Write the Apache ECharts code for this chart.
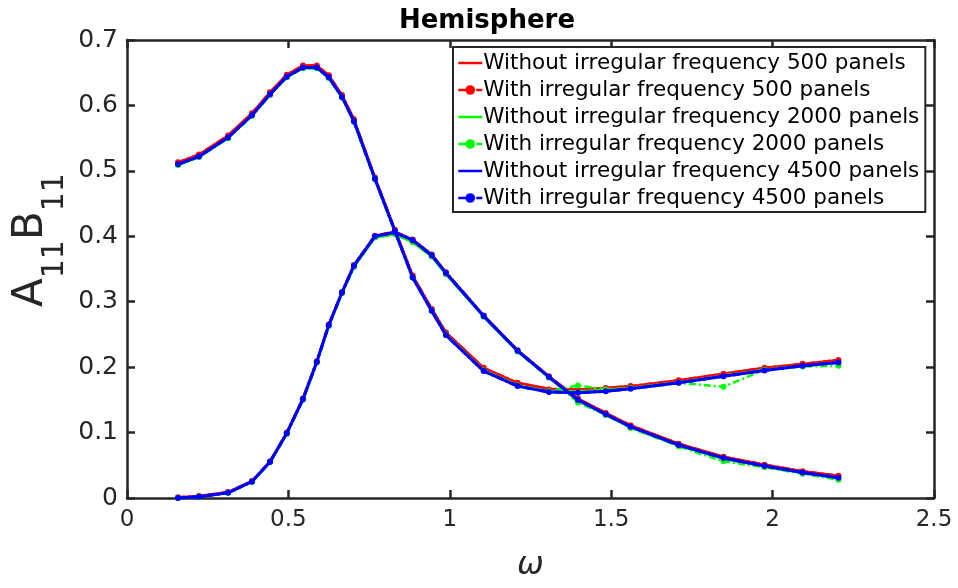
<!DOCTYPE html>
<html>
<head>
<meta charset="utf-8">
<script src="https://cdn.jsdelivr.net/npm/echarts@6/dist/echarts.min.js"></script>
<style>html,body{margin:0;padding:0;background:#fff}#c{width:958px;height:588px}</style>
</head>
<body>
<div id="c"></div>
<script>
const omega = [0.158,0.223,0.313,0.387,0.443,0.495,0.545,0.588,0.625,0.666,0.703,0.768,0.830,0.885,0.944,0.988,1.105,1.210,1.307,1.397,1.483,1.560,1.709,1.848,1.975,2.093,2.204];

const A_without500 = [0.513,0.525,0.554,0.588,0.620,0.647,0.661,0.661,0.646,0.616,0.579,0.490,0.410,0.340,0.289,0.253,0.199,0.176,0.167,0.166,0.168,0.171,0.180,0.190,0.199,0.205,0.211];
const A_with500    = [0.513,0.525,0.554,0.588,0.620,0.647,0.661,0.661,0.646,0.616,0.579,0.490,0.410,0.340,0.289,0.253,0.199,0.176,0.166,0.166,0.168,0.171,0.180,0.190,0.199,0.205,0.211];
const A_without2000 = [0.509,0.521,0.550,0.584,0.616,0.643,0.657,0.657,0.642,0.612,0.575,0.487,0.407,0.337,0.286,0.250,0.195,0.172,0.163,0.163,0.165,0.168,0.177,0.187,0.196,0.202,0.207];
const A_with2000    = [0.509,0.521,0.550,0.584,0.616,0.643,0.657,0.657,0.642,0.612,0.575,0.487,0.407,0.337,0.286,0.250,0.195,0.172,0.163,0.172,0.166,0.168,0.176,0.170,0.196,0.201,0.202];
const A_without4500 = [0.510,0.522,0.551,0.585,0.617,0.644,0.658,0.658,0.643,0.613,0.576,0.488,0.408,0.337,0.286,0.249,0.194,0.171,0.162,0.161,0.163,0.167,0.176,0.186,0.195,0.202,0.207];
const A_with4500    = [0.510,0.522,0.551,0.585,0.617,0.644,0.658,0.658,0.643,0.613,0.576,0.488,0.408,0.337,0.286,0.249,0.194,0.171,0.162,0.161,0.163,0.167,0.176,0.186,0.195,0.202,0.207];

const B_without500 = [0.001,0.003,0.009,0.026,0.056,0.100,0.152,0.209,0.265,0.315,0.356,0.401,0.407,0.395,0.372,0.345,0.279,0.226,0.186,0.152,0.130,0.111,0.083,0.063,0.051,0.041,0.034];
const B_with500    = [0.001,0.003,0.009,0.026,0.056,0.100,0.152,0.209,0.265,0.315,0.356,0.401,0.407,0.395,0.372,0.345,0.279,0.226,0.186,0.152,0.130,0.111,0.083,0.063,0.051,0.041,0.034];
const B_without2000 = [0.000,0.002,0.008,0.025,0.055,0.098,0.150,0.207,0.263,0.313,0.353,0.398,0.403,0.391,0.369,0.342,0.277,0.224,0.184,0.149,0.127,0.108,0.080,0.060,0.048,0.038,0.030];
const B_with2000    = [0.000,0.002,0.008,0.025,0.055,0.098,0.150,0.207,0.263,0.313,0.353,0.398,0.403,0.391,0.369,0.342,0.277,0.224,0.184,0.146,0.127,0.107,0.079,0.056,0.047,0.037,0.028];
const B_without4500 = [0.000,0.002,0.008,0.025,0.055,0.099,0.151,0.208,0.264,0.314,0.355,0.400,0.406,0.394,0.371,0.344,0.278,0.225,0.185,0.150,0.128,0.109,0.081,0.061,0.049,0.039,0.031];
const B_with4500    = [0.000,0.002,0.008,0.025,0.055,0.099,0.151,0.208,0.264,0.314,0.355,0.400,0.406,0.394,0.371,0.344,0.278,0.225,0.185,0.150,0.128,0.109,0.081,0.061,0.049,0.039,0.031];

const legendNames = [
  'Without irregular frequency 500 panels',
  'With irregular frequency 500 panels',
  'Without irregular frequency 2000 panels',
  'With irregular frequency 2000 panels',
  'Without irregular frequency 4500 panels',
  'With irregular frequency 4500 panels'
];
const xTicks = [0, 0.5, 1, 1.5, 2, 2.5];
const yTicks = [0, 0.1, 0.2, 0.3, 0.4, 0.5, 0.6, 0.7];

const colors = ['#ff0000','#ff0000','#00ff00','#00ff00','#0000ff','#0000ff'];
const Aset = [A_without500, A_with500, A_without2000, A_with2000, A_without4500, A_with4500];
const Bset = [B_without500, B_with500, B_without2000, B_with2000, B_without4500, B_with4500];

function pairs(ys){ return omega.map((x,i)=>[x, ys[i]]); }

const dashDot = [7,3,2,3];
const series = [];
for (let k = 0; k < 6; k++) {
  const withIF = (k % 2 === 1);
  [Aset[k], Bset[k]].forEach(ys => {
    series.push({
      name: legendNames[k],
      type: 'line',
      data: pairs(ys),
      symbol: withIF ? 'circle' : 'none',
      symbolSize: 6,
      showSymbol: withIF,
      lineStyle: { color: colors[k], width: k >= 4 ? 3 : 2.5, type: withIF ? dashDot : 'solid' },
      itemStyle: { color: colors[k] },
      animation: false,
      z: 2 + k
    });
  });
}

const legendData = legendNames.map((n, k) => {
  const withIF = (k % 2 === 1);
  return withIF
    ? { name: n, lineStyle: { type: [8,4,2,4], width: 2.5 } }
    : { name: n, itemStyle: { opacity: 0 }, lineStyle: { type: 'solid', width: 2.5 } };
});

const axisCol = '#262626';
const chart = echarts.init(document.getElementById('c'), null, { renderer: 'canvas' });
chart.setOption({
  backgroundColor: '#ffffff',
  animation: false,
  title: {
    text: 'Hemisphere',
    left: 482, top: 3, textAlign: 'center',
    textStyle: { fontFamily: 'DejaVu Sans', fontWeight: 'bold', fontSize: 26, color: '#000' }
  },
  grid: { left: 127, right: 24, top: 40, bottom: 90, containLabel: false },
  legend: {
    data: legendData,
    orient: 'vertical',
    left: 453, top: 47,
    itemWidth: 24, itemHeight: 12, itemGap: 5,
    padding: [5, 6, 3, 4],
    borderColor: axisCol, borderWidth: 2,
    backgroundColor: '#ffffff',
    textStyle: { fontFamily: 'DejaVu Sans', fontSize: 21.5, color: '#000', padding: [0,0,0,-4], lineHeight: 20.5 }
  },
  xAxis: [{
    type: 'value', min: 0, max: 2.5, interval: 0.5,
    axisLine: { show: true, onZero: false, lineStyle: { color: axisCol, width: 2.5 } },
    axisTick: { inside: true, length: 8, lineStyle: { color: axisCol, width: 2.5 } },
    axisLabel: { margin: 11, fontFamily: 'DejaVu Sans', fontSize: 23, color: axisCol,
      formatter: v => (xTicks.indexOf(v) >= 0 ? String(v) : '') },
    splitLine: { show: false },
    name: 'ω', nameLocation: 'middle', nameGap: 52,
    nameTextStyle: { fontFamily: 'DejaVu Sans', fontStyle: 'italic', fontSize: 32, color: axisCol }
  }, {
    type: 'value', min: 0, max: 2.5, interval: 0.5, position: 'top',
    axisLine: { show: true, onZero: false, lineStyle: { color: axisCol, width: 2.5 } },
    axisTick: { inside: true, length: 8, lineStyle: { color: axisCol, width: 2.5 } },
    axisLabel: { show: false }, splitLine: { show: false }
  }],
  yAxis: [{
    type: 'value', min: 0, max: 0.7, interval: 0.1,
    axisLine: { show: true, onZero: false, lineStyle: { color: axisCol, width: 2.5 } },
    axisTick: { inside: true, length: 8, lineStyle: { color: axisCol, width: 2.5 } },
    axisLabel: { margin: 9, fontFamily: 'DejaVu Sans', fontSize: 25, color: axisCol,
      formatter: v => { const r = Math.round(v*10)/10; return yTicks.indexOf(r) >= 0 ? String(r) : ''; } },
    splitLine: { show: false }
  }, {
    type: 'value', min: 0, max: 0.7, interval: 0.1, position: 'right',
    axisLine: { show: true, onZero: false, lineStyle: { color: axisCol, width: 2.5 } },
    axisTick: { inside: true, length: 8, lineStyle: { color: axisCol, width: 2.5 } },
    axisLabel: { show: false }, splitLine: { show: false }
  }],
  graphic: [{
    type: 'text',
    x: 40, y: 240,
    rotation: Math.PI / 2,
    style: {
      text: '{a|A}{s|11}{a|B}{s|11}',
      align: 'center', verticalAlign: 'middle',
      rich: {
        a: { fontFamily: 'DejaVu Sans', fontSize: 42, fill: axisCol, lineHeight: 60, verticalAlign: 'top' },
        s: { fontFamily: 'DejaVu Sans', fontSize: 30, fill: axisCol, lineHeight: 60, verticalAlign: 'bottom', padding: [22, 0, 0, 0] }
      }
    }
  }],
  series: series
});
</script>
</body>
</html>
